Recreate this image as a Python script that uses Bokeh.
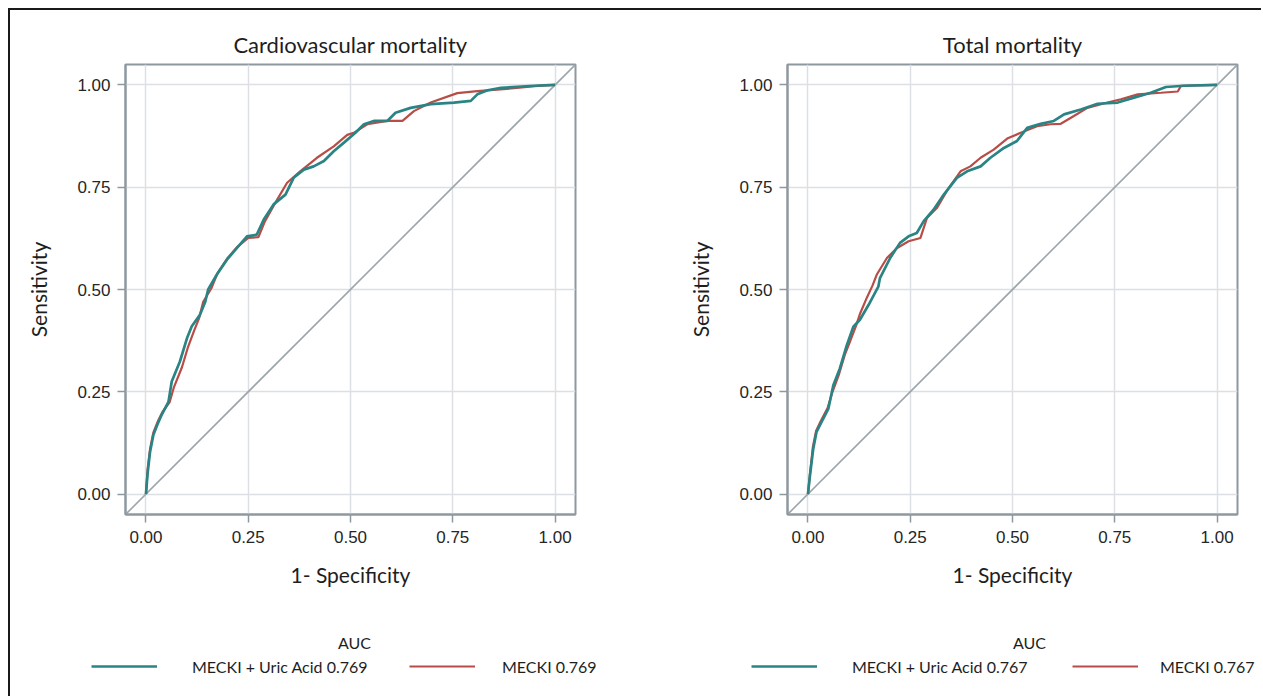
from bokeh.plotting import figure
from bokeh.layouts import row, column
from bokeh.models import Legend, LegendItem, FixedTicker, Range1d, Label
from bokeh.embed import file_html
from bokeh.resources import INLINE

# ---------------- data ----------------
panel_titles = ["Cardiovascular mortality", "Total mortality"]
x_label = "1- Specificity"
y_label = "Sensitivity"
legend_title = "AUC"
series_names = ["MECKI + Uric Acid", "MECKI"]
auc_cv = [0.769, 0.769]
auc_total = [0.767, 0.767]
tick_values = [0.0, 0.25, 0.5, 0.75, 1.0]
tick_labels = ["0.00", "0.25", "0.50", "0.75", "1.00"]
diag = [-0.05, 1.05]

# Cardiovascular mortality - MECKI + Uric Acid
cv_combo_fpr = [0, 0.004, 0.01, 0.018, 0.028, 0.038, 0.055, 0.063, 0.083, 0.1, 0.112,
                0.132, 0.145, 0.152, 0.173, 0.198, 0.222, 0.247, 0.271, 0.288, 0.312,
                0.341, 0.361, 0.386, 0.41, 0.435, 0.459, 0.484, 0.512, 0.533, 0.557,
                0.59, 0.61, 0.647, 0.696, 0.753, 0.794, 0.81, 0.835, 0.868, 0.949, 1.0]
cv_combo_tpr = [0, 0.05, 0.103, 0.144, 0.17, 0.193, 0.225, 0.275, 0.324, 0.38, 0.41,
                0.438, 0.47, 0.5, 0.536, 0.573, 0.601, 0.63, 0.634, 0.671, 0.708,
                0.732, 0.773, 0.793, 0.801, 0.814, 0.838, 0.859, 0.883, 0.904, 0.912,
                0.912, 0.932, 0.944, 0.953, 0.957, 0.961, 0.977, 0.987, 0.993, 0.998, 1.0]
# Cardiovascular mortality - MECKI
cv_mecki_fpr = [0, 0.004, 0.01, 0.018, 0.03, 0.04, 0.058, 0.068, 0.088, 0.103, 0.118,
                0.13, 0.14, 0.16, 0.175, 0.198, 0.222, 0.25, 0.275, 0.29, 0.315,
                0.345, 0.377, 0.418, 0.459, 0.492, 0.508, 0.541, 0.59, 0.627, 0.655,
                0.696, 0.761, 0.81, 0.9, 0.95, 1.0]
cv_mecki_tpr = [0, 0.06, 0.11, 0.15, 0.18, 0.2, 0.225, 0.26, 0.31, 0.36, 0.4,
                0.43, 0.47, 0.503, 0.54, 0.575, 0.603, 0.626, 0.628, 0.665, 0.71,
                0.761, 0.789, 0.822, 0.85, 0.878, 0.883, 0.904, 0.912, 0.912, 0.936,
                0.957, 0.98, 0.985, 0.992, 0.997, 1.0]
# Total mortality - MECKI + Uric Acid
tot_combo_fpr = [0, 0.005, 0.013, 0.021, 0.033, 0.05, 0.062, 0.078, 0.095, 0.111, 0.127,
                 0.148, 0.172, 0.176, 0.201, 0.225, 0.246, 0.266, 0.283, 0.307, 0.332,
                 0.364, 0.389, 0.422, 0.446, 0.479, 0.511, 0.536, 0.569, 0.601, 0.626,
                 0.667, 0.708, 0.757, 0.797, 0.838, 0.875, 0.92, 1.0]
tot_combo_tpr = [0, 0.046, 0.111, 0.152, 0.176, 0.209, 0.266, 0.307, 0.364, 0.409, 0.426,
                 0.462, 0.507, 0.528, 0.577, 0.614, 0.63, 0.638, 0.667, 0.695, 0.732,
                 0.773, 0.789, 0.801, 0.822, 0.846, 0.863, 0.895, 0.905, 0.912, 0.928,
                 0.94, 0.954, 0.957, 0.969, 0.981, 0.995, 0.998, 1.0]
# Total mortality - MECKI
tot_mecki_fpr = [0, 0.005, 0.012, 0.02, 0.032, 0.048, 0.06, 0.075, 0.09, 0.103, 0.117,
                 0.127, 0.144, 0.158, 0.168, 0.193, 0.217, 0.246, 0.275, 0.291, 0.315,
                 0.344, 0.373, 0.397, 0.422, 0.454, 0.487, 0.52, 0.56, 0.593, 0.618,
                 0.65, 0.683, 0.732, 0.765, 0.806, 0.863, 0.904, 0.912, 1.0]
tot_mecki_tpr = [0, 0.05, 0.115, 0.155, 0.18, 0.21, 0.25, 0.29, 0.34, 0.373, 0.41,
                 0.44, 0.48, 0.51, 0.536, 0.577, 0.601, 0.618, 0.626, 0.675, 0.699,
                 0.748, 0.789, 0.801, 0.822, 0.842, 0.869, 0.883, 0.899, 0.904, 0.905,
                 0.924, 0.944, 0.957, 0.965, 0.977, 0.981, 0.984, 0.998, 1.0]

# ---------------- style ----------------
TEAL = "#2a8484"
RED = "#b84d48"
FRAME = "#8e989f"
GRID = "#dce0e4"
DIAG = "#9ca5ab"
TXT = "#1e1e1e"
FONT = "Lato"
TICKFONT = "Liberation Sans"
MAIN_H = 600
LEG_H = 86
ROW_FROM_TOP = 56   # legend row centre, px below top of the legend strip
AUC_FROM_TOP = 32


def make_panel(title, combo, mecki, width, left, right):
    p = figure(width=width, height=MAIN_H, output_backend="svg", toolbar_location=None,
               x_range=Range1d(-0.05, 1.05), y_range=Range1d(-0.05, 1.05),
               min_border_left=left, min_border_right=right,
               min_border_top=54, min_border_bottom=MAIN_H - 54 - 450,
               background_fill_color="white", border_fill_color="white",
               frame_align=False)
    p.title.text = title
    p.title.align = "center"
    p.title.text_font = FONT
    p.title.text_font_size = "22px"
    p.title.text_font_style = "normal"
    p.title.text_color = TXT
    p.title.standoff = 13

    p.outline_line_color = FRAME
    p.outline_line_width = 2
    for ax in (p.xaxis[0], p.yaxis[0]):
        ax.ticker = FixedTicker(ticks=tick_values)
        ax.major_label_overrides = {v: s for v, s in zip(tick_values, tick_labels)}
        ax.axis_line_color = FRAME
        ax.axis_line_width = 2
        ax.major_tick_line_color = FRAME
        ax.major_tick_line_width = 1.5
        ax.major_tick_out = 8
        ax.major_tick_in = 0
        ax.minor_tick_line_color = None
        ax.major_label_text_font = TICKFONT
        ax.major_label_text_font_size = "17px"
        ax.major_label_text_color = "#262626"
        ax.axis_label_text_font = FONT
        ax.axis_label_text_font_size = "21px"
        ax.axis_label_text_font_style = "normal"
        ax.axis_label_text_color = TXT
    p.xaxis.axis_label = x_label
    p.yaxis.axis_label = y_label
    p.xaxis.major_label_standoff = 8
    p.xaxis.axis_label_standoff = 16
    p.yaxis.major_label_standoff = 7
    p.yaxis.axis_label_standoff = 23

    p.grid.grid_line_color = GRID
    p.grid.grid_line_width = 1.5
    p.xgrid.ticker = FixedTicker(ticks=tick_values)
    p.ygrid.ticker = FixedTicker(ticks=tick_values)

    p.line(diag, diag, line_color=DIAG, line_width=1.6)
    p.line(mecki[0], mecki[1], line_color=RED, line_width=2.2)
    p.line(combo[0], combo[1], line_color=TEAL, line_width=2.7)
    return p


def make_legend(combo, mecki, aucs, width, auc_x, items_x, standoffs):
    lf = figure(width=width, height=LEG_H, output_backend="svg", toolbar_location=None,
                x_range=Range1d(0, width), y_range=Range1d(0, LEG_H),
                x_axis_location=None, y_axis_location=None,
                min_border_left=0, min_border_right=0, min_border_top=0, min_border_bottom=0,
                outline_line_color=None, background_fill_color="white",
                border_fill_color="white", frame_align=False)
    lf.grid.visible = False
    # hidden copies of the two curves, only used for the legend swatches
    r_c = lf.line(combo[0], combo[1], line_color=TEAL, line_width=2.7, visible=False)
    r_m = lf.line(mecki[0], mecki[1], line_color=RED, line_width=2.2, visible=False)
    labels = [f"{series_names[0]} {aucs[0]:.3f}", f"{series_names[1]} {aucs[1]:.3f}"]
    for rend, lab, lx, sto in zip([r_c, r_m], labels, items_x, standoffs):
        lg = Legend(items=[LegendItem(label=lab, renderers=[rend])],
                    location=(lx, LEG_H - ROW_FROM_TOP - 10), orientation="horizontal",
                    glyph_width=66, glyph_height=20, label_height=20,
                    label_standoff=sto, padding=0, margin=0, spacing=0,
                    border_line_color=None, background_fill_alpha=0,
                    inactive_fill_alpha=0, click_policy="none",
                    label_text_font=FONT, label_text_font_size="16px",
                    label_text_color=TXT, label_text_baseline="middle")
        lf.add_layout(lg, "center")
    lf.add_layout(Label(x=auc_x, y=LEG_H - AUC_FROM_TOP, text=legend_title,
                        text_align="center", text_baseline="middle", text_font=FONT,
                        text_font_size="16px", text_color=TXT))
    return lf


p1 = make_panel(panel_titles[0], (cv_combo_fpr, cv_combo_tpr),
                (cv_mecki_fpr, cv_mecki_tpr), 628, 115, 63)
p2 = make_panel(panel_titles[1], (tot_combo_fpr, tot_combo_tpr),
                (tot_mecki_fpr, tot_mecki_tpr), 623, 149, 24)
l1 = make_legend((cv_combo_fpr, cv_combo_tpr), (cv_mecki_fpr, cv_mecki_tpr),
                 auc_cv, 628, 344, (81, 399), (35, 27))
l2 = make_legend((tot_combo_fpr, tot_combo_tpr), (tot_mecki_fpr, tot_mecki_tpr),
                 auc_total, 623, 391, (113, 434), (35, 22))

layout = row(column(p1, l1), column(p2, l2),
             styles={"border-top": "2px solid #1a1a1a",
                     "border-left": "2px solid #1a1a1a",
                     "margin-left": "8px", "margin-top": "8px"})

open("out.html", "w").write(file_html(layout, INLINE))
